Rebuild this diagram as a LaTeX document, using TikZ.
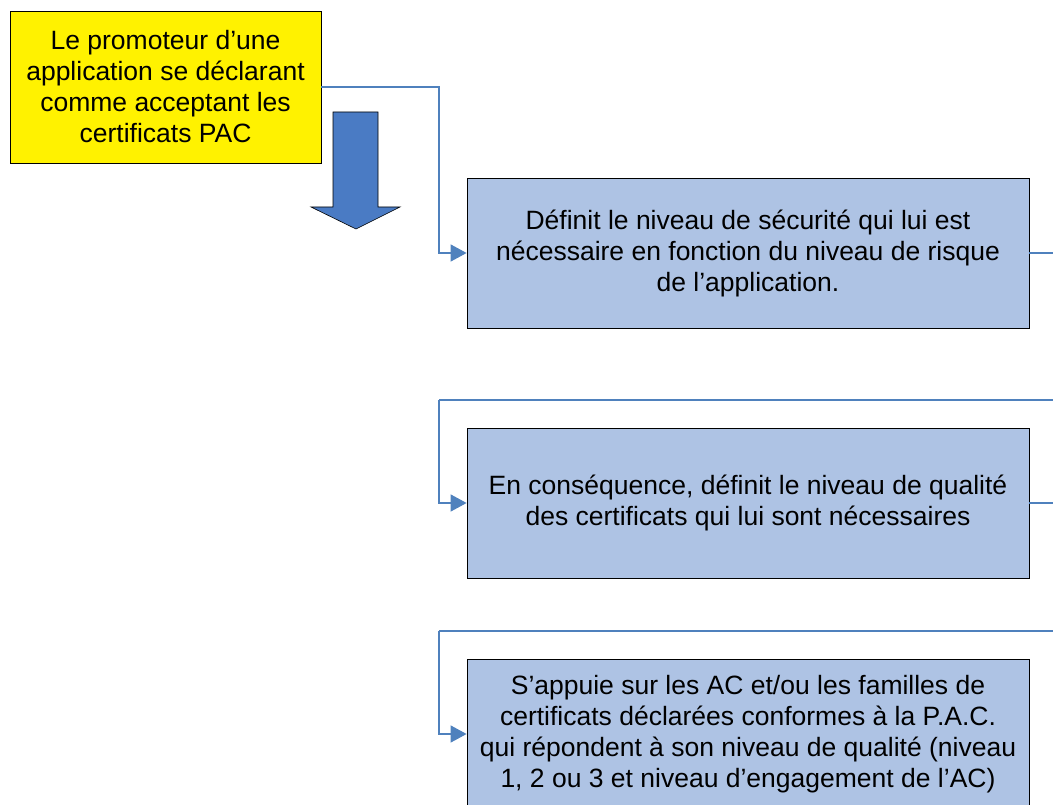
\documentclass[tikz,border=0pt]{standalone}
\usepackage{fontspec}
\setmainfont{Liberation Sans}
\usetikzlibrary{arrows.meta}
\definecolor{boxblue}{HTML}{AEC3E4}
\definecolor{linkblue}{HTML}{4F81BD}
\definecolor{arrowblue}{HTML}{4A7BC4}
\tikzset{
  txt/.style={font=\fontsize{26.5}{31}\selectfont, align=center, inner sep=0pt},
  yellowbox/.style={txt, draw=black, line width=0.8pt, fill=yellow, minimum width=311pt, minimum height=152pt},
  stepbox/.style={txt, draw=black, line width=0.8pt, fill=boxblue, minimum width=562pt, minimum height=150pt},
  link/.style={draw=linkblue, line width=1.4pt, -{Triangle[length=16pt,width=17pt]}},
  plainlink/.style={draw=linkblue, line width=1.4pt},
}
\begin{document}
\begin{tikzpicture}[x=1pt,y=-1pt]
\useasboundingbox (0,0) rectangle (1053,805);
\clip (0,0) rectangle (1053,805);
\node[yellowbox] (p) at (165.5,87) {Le promoteur d’une\\application se déclarant\\comme acceptant les\\certificats PAC};
\node[stepbox] (a) at (748,253) {Définit le niveau de sécurité qui lui est\\nécessaire en fonction du niveau de risque\\de l’application.};
\node[stepbox] (b) at (748,503) {En conséquence, définit le niveau de qualité\\des certificats qui lui sont nécessaires};
\node[stepbox] (c) at (748,734) {S’appuie sur les AC et/ou les familles de\\certificats déclarées conformes à la P.A.C.\\qui répondent à son niveau de qualité (niveau\\1, 2 ou 3 et niveau d’engagement de l’AC)};
% connectors
\coordinate (k1) at (439,87);
\coordinate (r1) at (1090,400);
\coordinate (l1) at (439,400);
\coordinate (r2) at (1090,631);
\coordinate (l2) at (439,631);
\draw[link] (p.east) -- (k1) |- (a.west);
\draw[plainlink] (a.east) -| (r1) -- (l1);
\draw[link] (l1) |- (b.west);
\draw[plainlink] (b.east) -| (r2) -- (l2);
\draw[link] (l2) |- (c.west);
% block arrow
\path[fill=arrowblue, draw=black, line width=0.6pt]
  (333,112) -- (378,112) -- (378,207) -- (400,207) -- (356,229) -- (311,207) -- (333,207) -- cycle;
\end{tikzpicture}
\end{document}
